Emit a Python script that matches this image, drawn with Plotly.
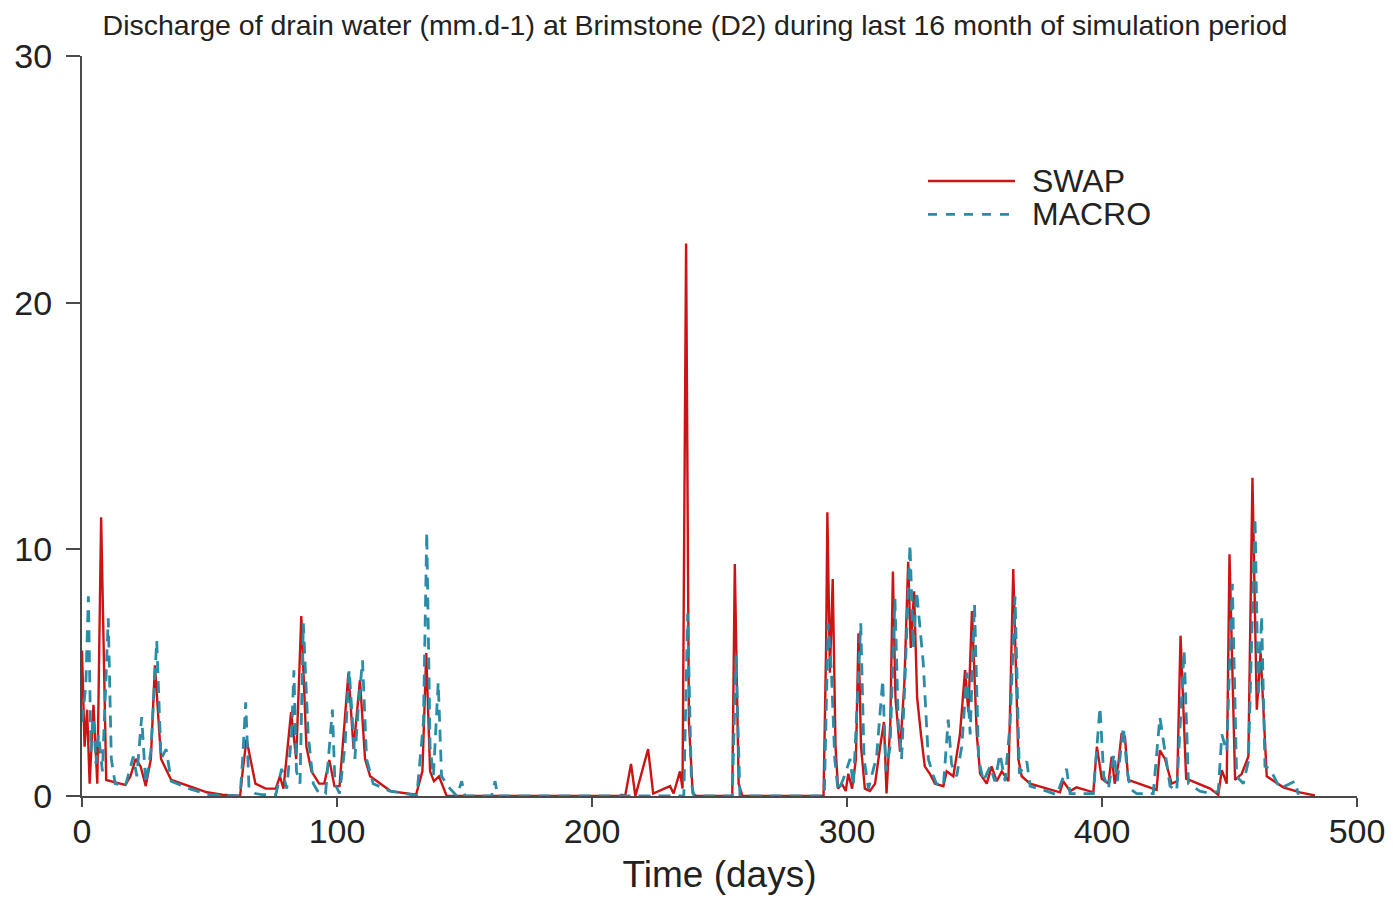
import plotly.graph_objects as go

# SWAP (solid red) - day, discharge (mm/d)
swap_day = [0, 1, 2, 3, 4.5, 6, 7.5, 9.5, 13, 17, 19, 21, 23, 25, 27, 28.6, 31, 35, 42, 49, 55, 60,
            62, 63, 64.5, 68, 72, 76, 77.6, 79, 82, 84, 86, 88, 90, 93, 95, 97, 99, 101, 104.5,
            106.5, 109, 111, 113, 121, 131, 133.5, 135, 136.5, 138, 140, 143,
            211, 211.6, 213, 215.3, 217, 222, 224, 230.6, 232, 234.5, 235.5, 236.9, 238, 239.5, 241,
            255, 256, 257.5, 259,
            290.8, 291.8, 292.3, 293.3, 294.4, 295.5, 296.5, 298, 299.5, 300.5, 302, 303.5, 304.5, 305.5,
            307, 309, 311, 313, 314.5, 315.5, 317, 318, 319, 320.8, 322.5, 324, 325, 326.3, 327.5,
            329, 330.5, 332.5, 334.5, 337.8, 339.1, 341.7, 344.3, 346.3, 347.6, 349, 350.9, 352.2,
            354.8, 356.7, 358.7, 360.7, 363.3, 365.2, 367.2, 368.5, 371.8, 383.5, 384.8, 387.5, 390,
            396.6, 398, 399.9, 402.5, 403.8, 405, 406.4, 407.7, 409, 410.3, 421.4, 422.7, 424.7,
            427.3, 429.5, 430.8, 433, 442.4, 445.6, 447, 448.9, 450, 452.2, 454.8, 457.4, 459,
            460.7, 462.2, 464.6, 471.1, 477.6, 483.5]
swap_val = [5.9, 2.0, 3.5, 0.5, 3.7, 0.5, 11.3, 0.65, 0.55, 0.45, 0.8, 1.5, 1.2, 0.4, 1.5, 5.3, 1.5, 0.65, 0.4, 0.15, 0.05, 0.0,
            0.0, 1.0, 2.3, 0.5, 0.3, 0.3, 0.8, 0.3, 3.4, 1.5, 7.3, 2.0, 1.0, 0.5, 0.5, 1.46, 0.4, 0.4, 5.0,
            1.9, 4.7, 1.5, 0.8, 0.2, 0.05, 1.0, 5.8, 1.0, 0.6, 0.8, 0.0,
            0.0, 0.05, 0.0, 1.3, 0.0, 1.9, 0.1, 0.4, 0.1, 1.0, 0.3, 22.4, 3.0, 0.1, 0.0,
            0.0, 9.4, 0.5, 0.0,
            0.0, 6.0, 11.5, 5.0, 8.8, 2.0, 0.3, 0.5, 0.2, 0.9, 0.3, 1.5, 6.6, 2.0,
            0.3, 0.2, 0.5, 2.0, 3.0, 0.1, 3.0, 9.1, 4.0, 1.8, 4.6, 9.5, 6.0, 8.3, 4.0,
            2.5, 1.2, 0.9, 0.5, 0.4, 1.0, 0.8, 2.5, 5.1, 3.4, 7.5, 2.5, 0.9,
            0.5, 1.2, 0.6, 1.0, 0.6, 9.2, 1.5, 0.8, 0.5, 0.15, 0.6, 0.2, 0.35,
            0.15, 2.0, 0.7, 0.5, 1.6, 0.5, 1.3, 2.55, 2.4, 0.65, 0.25, 1.85, 1.5,
            0.5, 0.6, 6.5, 0.7, 0.3, 0.05, 1.05, 0.5, 9.8, 0.65, 0.9, 1.6, 12.9,
            3.5, 5.8, 0.8, 0.35, 0.15, 0.02]

# MACRO (dashed teal) - day, discharge (mm/d)
macro_day = [0, 1.5, 2.5, 3.5, 4.5, 5.5, 6.5, 8, 10.3, 11.5, 13, 17, 20.1, 21.5, 23.4, 25, 27, 29.3,
             31, 33, 35, 42, 50, 62, 63, 64.2, 65.5, 68, 71, 76, 78.3, 80.3, 82.2, 83.1, 84.1, 85.5,
             86.8, 88.7, 90.7, 93, 95.5, 98.2, 99.2, 101, 103.1, 104.8, 107, 108.3, 110, 111.6,
             114.2, 120.8, 131.3, 133.9, 135.2, 136.5, 137.8, 139.7, 141, 144.3, 147, 148.9, 150.2,
             160.6, 162, 163,
             236, 237.5, 239, 240, 255, 256.5, 258,
             291.1, 292.6, 293.9, 295.2, 296.5, 298.6, 301.2, 302.5, 305.4, 306.7, 308.4, 311.6, 314,
             315.3, 316.9, 318.8, 320.1, 321.4, 322.7, 324.7, 326, 327.3, 329.9, 331.9, 333.9,
             335.1, 337.8, 339.7, 341, 343, 345, 347, 348.3, 350, 351.6, 353.5, 356.1, 358, 360,
             362, 364, 365.9, 367.6, 370.5, 371.8, 378.3, 382.2, 386.1, 387.5, 396.6, 399.2, 400.7,
             402.5, 404.7, 406, 408.4, 409.7, 411, 413.6, 420.1, 422.7, 424.7, 426.7, 429.3, 432.2,
             433.9, 438.4, 442.4, 445.6, 447, 448.9, 451.1, 452.8, 455.4, 457.4, 460, 461.3, 462.6,
             463.9, 465.9, 469.8, 475.7, 477]
macro_val = [3.0, 4.5, 8.1, 1.8, 3.2, 1.3, 2.5, 1.0, 7.2, 1.5, 0.5, 0.4, 1.6, 0.8, 3.2, 0.5, 1.8, 6.3,
             1.5, 1.9, 0.6, 0.3, 0.05, 0.0, 1.5, 3.8, 0.3, 0.1, 0.05, 0.05, 1.1, 0.3, 2.5, 5.1, 1.0, 0.5,
             7.0, 2.5, 0.5, 0.1, 0.1, 3.5, 0.5, 0.1, 2.0, 5.1, 1.5, 3.5, 5.5, 1.5,
             0.5, 0.2, 0.02, 3.0, 10.7, 2.0, 0.8, 4.6, 0.8, 0.3, 0.0, 0.6, 0.0,
             0.0, 0.6, 0.0,
             0.0, 7.4, 0.5, 0.0, 0.0, 5.7, 0.0,
             0.0, 7.0, 5.0, 1.5, 0.2, 0.7, 1.5, 0.4, 7.0, 1.5, 0.3, 1.6, 4.7,
             1.0, 2.0, 8.0, 3.0, 1.5, 4.6, 10.2, 6.0, 8.3, 5.4, 1.5, 0.8,
             0.5, 0.4, 3.1, 1.3, 0.8, 2.0, 5.0, 2.5, 7.8, 1.5, 0.6, 1.2, 0.6, 1.7,
             0.6, 3.0, 8.1, 0.9, 1.4, 0.4, 0.2, 0.05, 1.1, 0.1, 0.1, 3.6, 0.8,
             0.3, 1.7, 0.6, 2.8, 1.2, 0.3, 0.1, 0.1, 3.2, 1.8, 0.4, 0.2, 5.9,
             0.5, 0.2, 0.1, 0.2, 2.5, 1.8, 8.6, 0.8, 0.5, 1.4, 11.3, 4.0, 7.3,
             1.2, 1.1, 0.3, 0.6, 0.05]

x_ticks = [0, 100, 200, 300, 400, 500]
y_ticks = [0, 10, 20, 30]
series_names = ["SWAP", "MACRO"]
title_text = "Discharge of drain water (mm.d-1) at Brimstone (D2) during last 16 month of simulation period"
x_title = "Time (days)"

RED = "#cc1414"
TEAL = "#2a8ca6"
AXIS = "#4a4a4a"
TXT = "#222222"
FONT = "Liberation Sans, Arial, sans-serif"

fig = go.Figure()
fig.add_trace(go.Scatter(x=swap_day, y=swap_val, mode="lines", name=series_names[0],
                         line=dict(color=RED, width=2.4), showlegend=False))
fig.add_trace(go.Scatter(x=macro_day, y=macro_val, mode="lines", name=series_names[1],
                         line=dict(color=TEAL, width=2.8, dash="12px,8px"), showlegend=False))

# manual legend (line samples + labels)
leg_x0, leg_x1, leg_tx = 0.6635, 0.7318, 0.7435
leg_y = [0.831, 0.786]
for i, (nm, col, dsh, w) in enumerate([(series_names[0], RED, "solid", 2.4),
                                       (series_names[1], TEAL, "dash", 2.8)]):
    fig.add_shape(type="line", xref="paper", yref="paper", x0=leg_x0, x1=leg_x1,
                  y0=leg_y[i], y1=leg_y[i], line=dict(color=col, width=w, dash=dsh))
    fig.add_annotation(xref="paper", yref="paper", x=leg_tx, y=leg_y[i], text=nm,
                       showarrow=False, xanchor="left", yanchor="middle",
                       font=dict(family=FONT, size=32, color=TXT))

# page body has an 8px margin, so the figure is sized/placed to compensate
W, H = 1385, 891
fig.update_layout(
    width=W, height=H,
    paper_bgcolor="white", plot_bgcolor="white",
    margin=dict(l=74, r=36, t=48, b=103, autoexpand=False),
    title=dict(text=title_text, x=(695 - 8) / W, xref="container", xanchor="center",
               y=1 - 17 / H, yref="container", yanchor="middle", automargin=False,
               font=dict(family=FONT, size=28.5, color=TXT)),
    font=dict(family=FONT, color=TXT),
)
fig.update_xaxes(range=[0, 500], tickvals=x_ticks, ticktext=[str(v) for v in x_ticks],
                 showgrid=False, zeroline=False, showline=True, linecolor=AXIS, linewidth=2,
                 ticks="outside", ticklen=9, tickwidth=2, tickcolor=AXIS, automargin=False,
                 ticklabelstandoff=-5,
                 tickfont=dict(family=FONT, size=34, color=TXT),
                 title=dict(text=x_title, font=dict(family=FONT, size=37, color=TXT), standoff=12))
fig.update_yaxes(range=[0, 30], tickvals=y_ticks, ticktext=[str(v) for v in y_ticks],
                 showgrid=False, zeroline=False, showline=True, linecolor=AXIS, linewidth=2,
                 ticks="outside", ticklen=14, tickwidth=2, tickcolor=AXIS, automargin=False,
                 ticklabelstandoff=7,
                 tickfont=dict(family=FONT, size=34, color=TXT))

fig.write_html("out.html")
